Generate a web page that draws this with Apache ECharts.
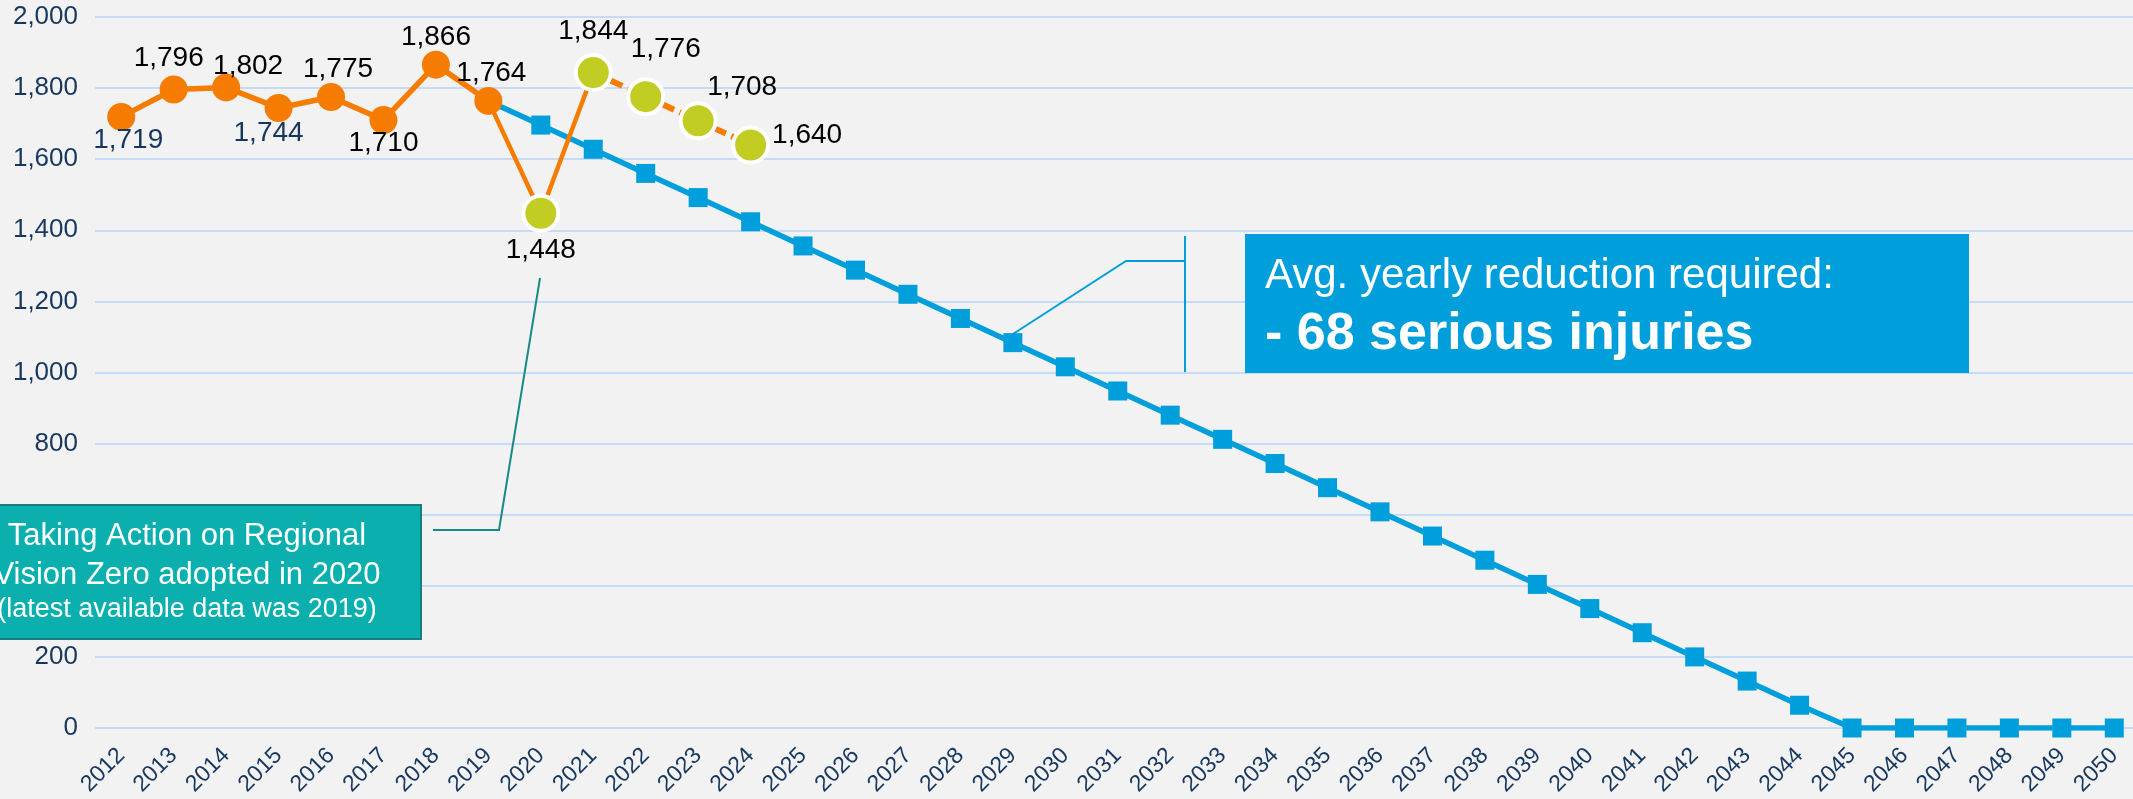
<!DOCTYPE html>
<html>
<head>
<meta charset="utf-8">
<title>Serious injuries - Vision Zero target</title>
<script src="https://cdn.jsdelivr.net/npm/echarts@6/dist/echarts.min.js"></script>
<style>
  html, body { margin: 0; padding: 0; background: #f2f2f2; }
  #chart { width: 2133px; height: 799px; }
</style>
</head>
<body>
<div id="chart"></div>
<script>
// categories (x axis)
const years = ['2012', '2013', '2014', '2015', '2016', '2017', '2018', '2019', '2020', '2021',
  '2022', '2023', '2024', '2025', '2026', '2027', '2028', '2029', '2030', '2031', '2032',
  '2033', '2034', '2035', '2036', '2037', '2038', '2039', '2040', '2041', '2042', '2043',
  '2044', '2045', '2046', '2047', '2048', '2049', '2050'];

// observed serious injuries 2012-2019 (before adoption)
const actualYears = ['2012', '2013', '2014', '2015', '2016', '2017', '2018', '2019'];
const actualValues = [1719, 1796, 1802, 1744, 1775, 1710, 1866, 1764];

// observed after adoption 2020-2024
const recentYears = ['2020', '2021', '2022', '2023', '2024'];
const recentValues = [1448, 1844, 1776, 1708, 1640];

// target path 2019-2050
const targetYears = ['2019', '2020', '2021', '2022', '2023', '2024', '2025', '2026', '2027',
  '2028', '2029', '2030', '2031', '2032', '2033', '2034', '2035', '2036', '2037', '2038',
  '2039', '2040', '2041', '2042', '2043', '2044', '2045', '2046', '2047', '2048', '2049', '2050'];
const targetValues = [1764, 1696, 1628, 1560, 1492, 1424, 1356, 1288, 1220, 1152, 1084, 1016,
  948, 880, 812, 744, 676, 608, 540, 472, 404, 336, 268, 200, 132, 64, 0, 0, 0, 0, 0, 0];

// y axis ticks
const yMin = 0;
const yMax = 2000;
const yStep = 200;

const ORANGE = '#f57c00';
const LIME = '#c2cd23';
const BLUE = '#009fdb';
const TEAL = '#0aafae';
const NAVY = '#17375e';
const FONT = "'Liberation Sans', Arial, sans-serif";

// put a sparse series on the full year axis
function alignTo(keys, values) {
  return years.map(function (y) {
    const i = keys.indexOf(y);
    return i < 0 ? null : values[i];
  });
}

function fmt(v) {
  return v.toLocaleString('en-US');
}

function labelFor(pos, opts) {
  return Object.assign({
    show: true,
    position: pos,
    distance: 0,
    fontFamily: FONT,
    fontSize: 28,
    color: '#000',
    formatter: function (p) { return fmt(p.value); }
  }, opts || {});
}

function buildOption() {
  const actual = alignTo(actualYears, actualValues);
  const recent = alignTo(recentYears, recentValues);
  const target = alignTo(targetYears, targetValues);

  // per-point label placement for the actual series
  const actualLabels = {
    '2012': labelFor('bottom', { distance: -5, offset: [7, 0], color: NAVY }),
    '2013': labelFor('top', { distance: 3, offset: [-5, 0] }),
    '2014': labelFor('top', { distance: 0, offset: [22, 7] }),
    '2015': labelFor('bottom', { distance: -3, offset: [-10, 0], color: NAVY }),
    '2016': labelFor('top', { offset: [7, 0] }),
    '2017': labelFor('bottom', { distance: -5 }),
    '2018': labelFor('top', { distance: -1 }),
    '2019': labelFor('top', { offset: [3, 0] })
  };
  const recentLabels = {
    '2020': labelFor('bottom', { distance: 4 }),
    '2021': labelFor('top', { distance: 8 }),
    '2022': labelFor('top', { offset: [20, -14] }),
    '2023': labelFor('top', { offset: [44, 0] }),
    '2024': labelFor('right', { distance: 2, offset: [0, -10] })
  };

  const actualData = actual.map(function (v, i) {
    if (v === null) return null;
    return { value: v, label: actualLabels[years[i]] };
  });
  const recentData = recent.map(function (v, i) {
    if (v === null) return null;
    return { value: v, label: recentLabels[years[i]] };
  });

  // thin solid link 2019 -> 2020 -> 2021, dashed 2021 -> 2024
  const bridge = years.map(function (y, i) {
    if (y === '2019') return actualValues[actualValues.length - 1];
    if (y === '2020' || y === '2021') return recent[i];
    return null;
  });
  const dashed = years.map(function (y, i) {
    return (y >= '2021' && y <= '2024') ? recent[i] : null;
  });

  return {
    backgroundColor: '#f2f2f2',
    animation: false,
    textStyle: { fontFamily: FONT },
    grid: {
      left: 95,
      top: 17,
      width: 2045.5,
      bottom: 71,
      containLabel: false,
      outerBoundsMode: 'none'
    },
    xAxis: {
      type: 'category',
      data: years,
      boundaryGap: true,
      axisLine: { show: false },
      axisTick: { show: false },
      axisLabel: {
        interval: 0,
        rotate: 45,
        margin: 24,
        fontSize: 23,
        color: NAVY,
        fontFamily: FONT
      }
    },
    yAxis: {
      type: 'value',
      min: yMin,
      max: yMax,
      interval: yStep,
      axisLine: { show: false },
      axisTick: { show: false },
      splitLine: { lineStyle: { color: '#c5dbf6', width: 2 } },
      axisLabel: {
        margin: 17,
        fontSize: 26,
        color: NAVY,
        fontFamily: FONT,
        formatter: function (v) { return fmt(v); }
      }
    },
    series: [
      {
        name: 'Target',
        type: 'line',
        data: target,
        z: 2,
        symbol: 'rect',
        symbolSize: 19,
        lineStyle: { color: BLUE, width: 5.5 },
        itemStyle: { color: BLUE }
      },
      {
        name: 'Bridge',
        type: 'line',
        data: bridge,
        z: 3,
        symbol: 'none',
        lineStyle: { color: ORANGE, width: 4.5 }
      },
      {
        name: 'Trend since 2021',
        type: 'line',
        data: dashed,
        z: 3,
        symbol: 'none',
        lineStyle: { color: ORANGE, width: 6, type: [13, 6] }
      },
      {
        name: 'Actual',
        type: 'line',
        data: actualData,
        z: 4,
        symbol: 'circle',
        symbolSize: 28,
        lineStyle: { color: ORANGE, width: 5.5 },
        itemStyle: { color: ORANGE }
      },
      {
        name: 'Since adoption',
        type: 'scatter',
        data: recentData,
        z: 5,
        symbol: 'circle',
        symbolSize: 35,
        itemStyle: { color: LIME, opacity: 1, borderColor: '#ffffff', borderWidth: 4 }
      }
    ],
    graphic: buildAnnotations()
  };
}

// callout boxes and leader lines
function buildAnnotations() {
  return [
    {
      type: 'polyline',
      z: 100,
      shape: { points: [[433, 530], [499, 530], [540, 278]] },
      style: { stroke: '#178a88', lineWidth: 2, fill: null }
    },
    {
      type: 'rect',
      z: 100,
      shape: { x: -47, y: 505, width: 468, height: 134 },
      style: { fill: TEAL, stroke: '#17807e', lineWidth: 2 }
    },
    {
      type: 'text',
      z: 101,
      x: 187, y: 536,
      style: { text: 'Taking Action on Regional', fill: '#fff', font: '31px ' + FONT, align: 'center', verticalAlign: 'middle' }
    },
    {
      type: 'text',
      z: 101,
      x: 187, y: 575,
      style: { text: 'Vision Zero adopted in 2020', fill: '#fff', font: '31px ' + FONT, align: 'center', verticalAlign: 'middle' }
    },
    {
      type: 'text',
      z: 101,
      x: 187, y: 610,
      style: { text: '(latest available data was 2019)', fill: '#fff', font: '27px ' + FONT, align: 'center', verticalAlign: 'middle' }
    },
    {
      type: 'polyline',
      z: 100,
      shape: { points: [[1013, 334], [1126, 261], [1185, 261]] },
      style: { stroke: BLUE, lineWidth: 2, fill: null }
    },
    {
      type: 'line',
      z: 100,
      shape: { x1: 1185, y1: 236, x2: 1185, y2: 372 },
      style: { stroke: BLUE, lineWidth: 2 }
    },
    {
      type: 'rect',
      z: 100,
      shape: { x: 1245, y: 234, width: 724, height: 139 },
      style: { fill: BLUE }
    },
    {
      type: 'text',
      z: 101,
      x: 1265, y: 276,
      style: { text: 'Avg. yearly reduction required:', fill: '#fff', font: '42px ' + FONT, align: 'left', verticalAlign: 'middle' }
    },
    {
      type: 'text',
      z: 101,
      x: 1265, y: 335,
      style: { text: '- 68 serious injuries', fill: '#fff', font: 'bold 52px ' + FONT, align: 'left', verticalAlign: 'middle' }
    }
  ];
}

function initChart() {
  const el = document.getElementById('chart');
  if (!el || !window.echarts) return;
  const chart = echarts.init(el, null, { renderer: 'canvas' });
  chart.setOption(buildOption());
}

initChart();
</script>
</body>
</html>
